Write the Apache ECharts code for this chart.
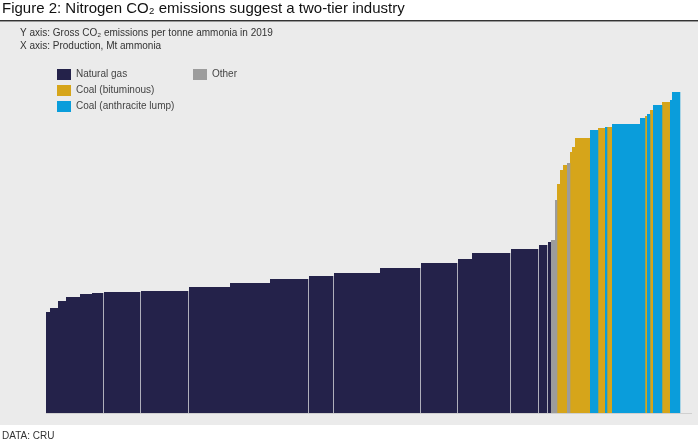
<!DOCTYPE html>
<html><head><meta charset="utf-8">
<script src="https://cdn.jsdelivr.net/npm/echarts@6/dist/echarts.min.js"></script>
<style>body{margin:0;background:#fff}#c{width:698px;height:445px}</style>
</head><body><div id="c"></div>
<script>
// Plant blocks in merit order: production width (Mt, approx), CO2 t/t, fuel
const widths = [4,8,8,14,12,11,37,48,42,40,38,25,47,40,37,15,38,28,9,4,4,2,3,3,4,3,2,3,15,8,7,2,5,28,5,2,3,3,9,8,2,8];
const values = [1.01,1.05,1.12,1.16,1.19,1.20,1.21,1.22,1.26,1.30,1.34,1.37,1.40,1.45,1.50,1.54,1.60,1.64,1.68,1.71,1.73,2.13,2.29,2.43,2.48,2.50,2.61,2.66,2.75,2.83,2.85,2.86,2.86,2.89,2.95,2.97,2.99,3.03,3.08,3.11,3.13,3.21];
const fuels  = ['g','g','g','g','g','g','g','g','g','g','g','g','g','g','g','g','g','g','g','g','o','o','b','b','b','o','b','b','b','a','b','a','b','a','a','b','a','b','a','b','a','a'];
const gaps = [6,7,8,11,12,14,15,17,18,19];
const colors = {g:'#24224a', b:'#d6a51a', a:'#0a9ddb', o:'#9c9c9c'};
let starts = [], acc = 0;
widths.forEach(w => { starts.push(acc); acc += w; });
const data = widths.map((w,i)=>[starts[i], values[i], w, fuels[i]]);
const chart = echarts.init(document.getElementById('c'));
const names = {g:'Natural gas', b:'Coal (bituminous)', a:'Coal (anthracite lump)', o:'Other'};
const series = ['g','b','a','o'].map(f => ({
  type:'custom', name:names[f],
  itemStyle:{color:colors[f]},
  renderItem:(p, api) => {
    const x0 = api.value(0), v = api.value(1), w = api.value(2);
    const a = api.coord([x0, v]), b = api.coord([x0 + w, 0]);
    const gap = gaps.includes(data.findIndex(d=>d[0]===x0)) ? 1 : 0;
    return {type:'rect', shape:{x:a[0]+gap, y:a[1], width:b[0]-a[0]-gap+0.3, height:b[1]-a[1]},
      style:{fill:colors[f]}};
  },
  data: data.filter(d=>d[3]===f)
}));
series.push({type:'line', data:[], markLine:{}});
chart.setOption({
  animation:false,
  graphic:[
    {type:'rect', shape:{x:0,y:22,width:698,height:403}, style:{fill:'#ebebeb'}, z:-10},
    {type:'rect', shape:{x:0,y:20,width:698,height:1.5}, style:{fill:'#333'}},
    {type:'text', left:2, top:1, style:{text:'Figure 2: Nitrogen CO\u2082 emissions suggest a two-tier industry', font:'15px "Liberation Sans", Arial', fill:'#111'}},
    {type:'text', left:20, top:27, style:{text:'Y axis: Gross CO\u2082 emissions per tonne ammonia in 2019\nX axis: Production, Mt ammonia', font:'10px "Liberation Sans", Arial', fill:'#333', lineHeight:13}},
    {type:'text', left:2, top:431, style:{text:'DATA: CRU', font:'10px "Liberation Sans", Arial', fill:'#333'}},
    {type:'rect', shape:{x:46,y:413,width:646,height:1}, style:{fill:'#d0d0d0'}}
  ],
  legend:[
    {data:['Natural gas','Coal (bituminous)','Coal (anthracite lump)'], orient:'vertical', left:52, top:64, itemWidth:14, itemHeight:11, itemGap:5, icon:'rect', textStyle:{fontSize:10, color:'#444', fontFamily:'Liberation Sans'}},
    {data:['Other'], left:188, top:64, itemWidth:14, itemHeight:11, icon:'rect', textStyle:{fontSize:10, color:'#444', fontFamily:'Liberation Sans'}}
  ],
  grid:{left:46, right:18, top:73, bottom:32},
  xAxis:{type:'value', min:0, max:acc, show:false},
  yAxis:{type:'value', min:0, max:3.4, show:false},
  series: series.slice(0,4)
});
</script></body></html>
